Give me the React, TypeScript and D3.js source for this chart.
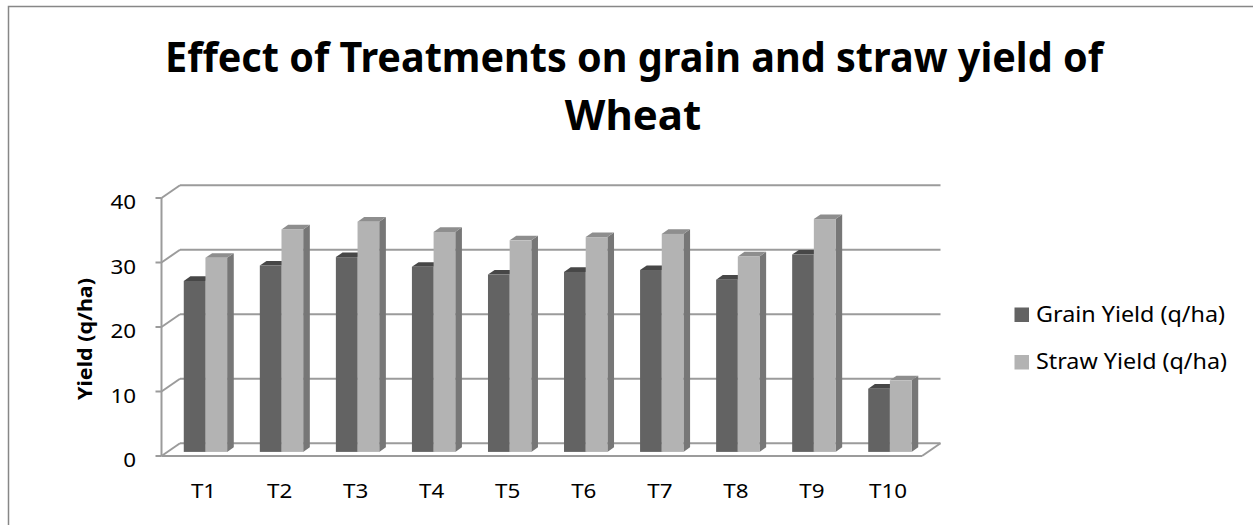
import * as React from 'react';
import * as d3 from 'd3';

const categories = ['T1', 'T2', 'T3', 'T4', 'T5', 'T6', 'T7', 'T8', 'T9', 'T10'];
const grainYield = [26.5, 28.9, 30.2, 28.7, 27.5, 27.9, 28.2, 26.7, 30.6, 9.8];
const strawYield = [30.1, 34.5, 35.7, 34.1, 32.8, 33.3, 33.8, 30.3, 36.1, 11.1];
const yTicks = [0, 10, 20, 30, 40];
const seriesNames = ['Grain Yield (q/ha)', 'Straw Yield (q/ha)'];

const W = 1253;
const H = 525;

// front plane of the 3D box
const left = 161.5;
const right = 922;
const base = 456;
const plotH = 258;
// depth offset (front -> back)
const depthX = 18.5;
const depthY = -12.8;

const colors = {
  grain: { front: '#636363', top: '#474747', side: '#4f4f4f' },
  straw: { front: '#b3b3b3', top: '#8e8e8e', side: '#777777' },
};

const grid = '#9b9b9b';
const font = '"Noto Sans", "Open Sans", sans-serif';

export default function App() {
  const x = d3.scaleBand<string>().domain(categories).range([0, right - left]).paddingInner(0.43).paddingOuter(0.215);
  const xSub = d3.scaleBand<string>().domain(['grain', 'straw']).range([0, x.bandwidth()]);
  const y = d3.scaleLinear().domain([0, 40]).range([0, plotH]);

  // bars sit between these depth fractions
  const d0 = 0.32;
  const d1 = 0.68;
  const bx = d0 * depthX;
  const by = d0 * depthY;
  const sx = (d1 - d0) * depthX;
  const sy = (d1 - d0) * depthY;

  const bars: React.ReactNode[] = [];
  categories.forEach((c, i) => {
    const vals = [grainYield[i], strawYield[i]];
    ['grain', 'straw'].forEach((k, j) => {
      const v = vals[j];
      const col = colors[k as 'grain' | 'straw'];
      const x0 = left + (x(c) ?? 0) + (xSub(k) ?? 0) + bx;
      const w = xSub.bandwidth();
      const yb = base + by;
      const yt = yb - y(v);
      bars.push(
        <g key={c + k}>
          <polygon
            points={`${x0 + w},${yt} ${x0 + w + sx},${yt + sy} ${x0 + w + sx},${yb + sy} ${x0 + w},${yb}`}
            fill={col.side}
          />
          <polygon
            points={`${x0},${yt} ${x0 + sx},${yt + sy} ${x0 + w + sx},${yt + sy} ${x0 + w},${yt}`}
            fill={col.top}
          />
          <rect x={x0} y={yt} width={w} height={y(v)} fill={col.front} />
        </g>
      );
    });
  });

  return (
    <svg width={W} height={H} style={{ position: 'absolute', left: 0, top: 0, background: '#fff' }}>
      <rect x={8.5} y={6.5} width={1300} height={700} fill="#fff" stroke="#878787" strokeWidth={1.5} />

      <text x={634} y={71.5} textAnchor="middle" fontFamily={font} fontWeight="bold" fontSize={42} textLength={938} lengthAdjust="spacingAndGlyphs">
        Effect of Treatments on grain and straw yield of
      </text>
      <text x={633} y={130} textAnchor="middle" fontFamily={font} fontWeight="bold" fontSize={42}>
        Wheat
      </text>

      {/* back wall gridlines + side diagonals */}
      {yTicks.map(t => {
        const yf = base - y(t);
        return (
          <g key={t} stroke={grid} strokeWidth={2} fill="none">
            <line x1={left + depthX} x2={right + depthX} y1={yf + depthY} y2={yf + depthY} />
            <line x1={left} x2={left + depthX} y1={yf} y2={yf + depthY} />
            <line x1={left - 6} x2={left} y1={yf} y2={yf} />
          </g>
        );
      })}
      {/* floor */}
      <g stroke={grid} strokeWidth={2} fill="none">
        <line x1={left} x2={right} y1={base} y2={base} />
        <line x1={right} x2={right + depthX} y1={base} y2={base + depthY} />
        <line x1={left} x2={left} y1={base} y2={base - plotH} />
      </g>

      {bars}

      {yTicks.map(t => (
        <text
          key={t}
          transform={`translate(136,${base - y(t) + 11}) scale(1.12,1)`}
          textAnchor="end"
          fontFamily={font}
          fontSize={20}
          fill="#000"
        >
          {t}
        </text>
      ))}
      {categories.map(c => (
        <text
          key={c}
          transform={`translate(${left + (x(c) ?? 0) + x.bandwidth() / 2 + 4},498) scale(1.12,1)`}
          textAnchor="middle"
          fontFamily={font}
          fontSize={20}
          fill="#000"
        >
          {c}
        </text>
      ))}

      <text
        transform="translate(92,339) rotate(-90)"
        textAnchor="middle"
        fontFamily={font}
        fontWeight="bold"
        fontSize={20}
        textLength={122}
        lengthAdjust="spacingAndGlyphs"
      >
        Yield (q/ha)
      </text>

      {seriesNames.map((s, i) => (
        <g key={s}>
          <rect x={1014.5} y={307.5 + i * 47.5} width={14.5} height={14.5} fill={i === 0 ? colors.grain.front : colors.straw.front} />
          <text x={1036} y={321.7 + i * 47.5} fontFamily={font} fontSize={21} textLength={i === 0 ? 189 : 191} lengthAdjust="spacingAndGlyphs">
            {s}
          </text>
        </g>
      ))}
    </svg>
  );
}
